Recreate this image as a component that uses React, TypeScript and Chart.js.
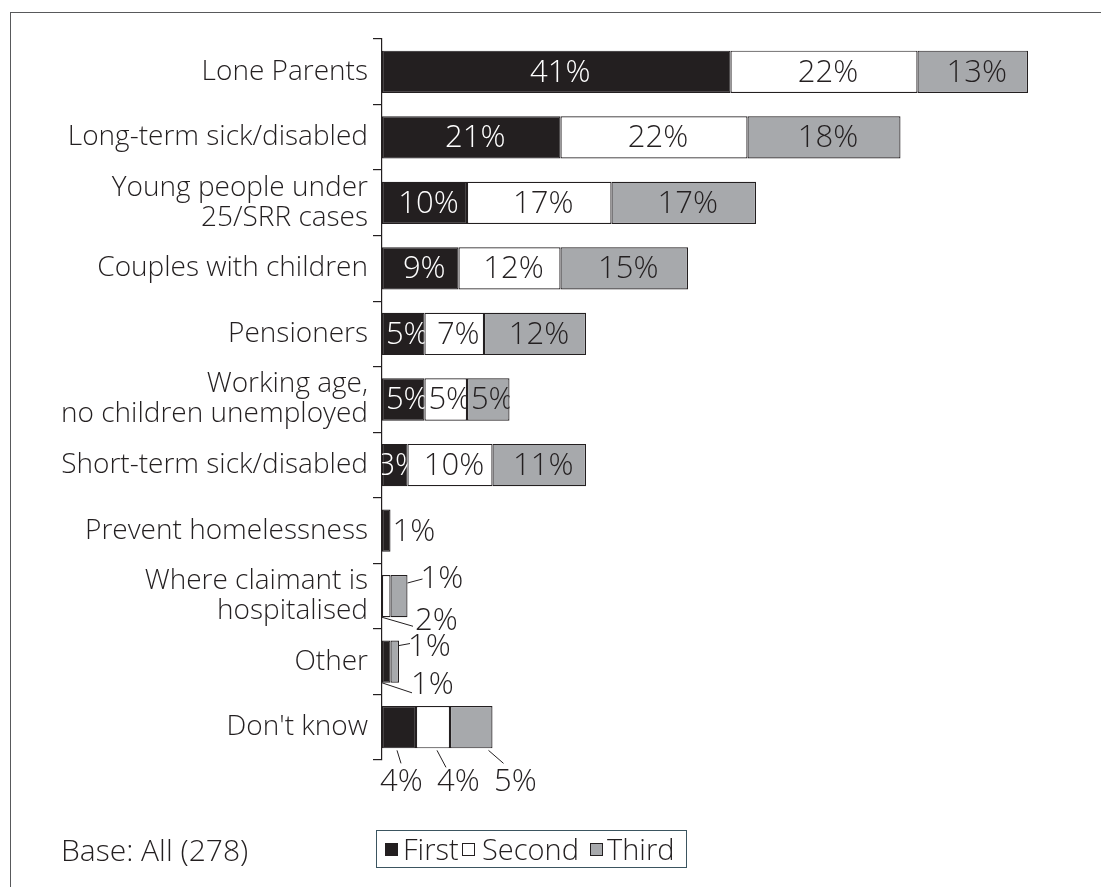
import React, { useEffect, useRef } from "react";
import { Chart, registerables } from "chart.js";

Chart.register(...registerables);

const FONT = "'Open Sans', 'Noto Sans', sans-serif";
const WEIGHT = 300;
const INK = "#231f20";

const categories: string[][] = [
  ["Lone Parents"],
  ["Long-term sick/disabled"],
  ["Young people under", "25/SRR cases"],
  ["Couples with children"],
  ["Pensioners"],
  ["Working age,", "no children unemployed"],
  ["Short-term sick/disabled"],
  ["Prevent homelessness"],
  ["Where claimant is", "hospitalised"],
  ["Other"],
  ["Don't know"],
];
const firstValues: (number | null)[] = [41, 21, 10, 9, 5, 5, 3, 1, null, 1, 4];
const secondValues: (number | null)[] = [22, 22, 17, 12, 7, 5, 10, null, 1, null, 4];
const thirdValues: (number | null)[] = [13, 18, 17, 15, 12, 5, 11, null, 2, 1, 5];
const seriesNames = ["First", "Second", "Third"];
const seriesColors = [INK, "#ffffff", "#a7a9ac"];
const insideLabelRows = [0, 1, 2, 3, 4, 5, 6];

const labelPlugin = {
  id: "barLabels",
  afterDatasetsDraw(chart: any) {
    const ctx = chart.ctx;
    const xs = chart.scales.x;
    const x0 = xs.getPixelForValue(0);
    ctx.save();
    ctx.font = `${WEIGHT} 31px ${FONT}`;
    ctx.textBaseline = "middle";
    ctx.strokeStyle = INK;
    ctx.lineWidth = 1;
    const geo = (di: number, i: number) => {
      const el = chart.getDatasetMeta(di).data[i];
      const p = el.getProps(["x", "y", "base", "height"], true);
      return { x: p.x, y: p.y, base: p.base, top: p.y - p.height / 2, bottom: p.y + p.height / 2 };
    };
    const line = (ax: number, ay: number, bx: number, by: number) => {
      ctx.beginPath();
      ctx.moveTo(ax, ay);
      ctx.lineTo(bx, by);
      ctx.stroke();
    };
    // inside labels, clipped to their bar
    chart.data.datasets.forEach((ds: any, di: number) => {
      insideLabelRows.forEach((i) => {
        const v = ds.data[i];
        if (v == null) return;
        const g = geo(di, i);
        ctx.save();
        ctx.beginPath();
        ctx.rect(g.base, g.top, g.x - g.base, g.bottom - g.top);
        ctx.clip();
        ctx.fillStyle = di === 0 ? "#ffffff" : INK;
        ctx.textAlign = "center";
        ctx.fillText(`${v}%`, (g.x + g.base) / 2 + 4, g.y + 1);
        ctx.restore();
      });
    });
    ctx.fillStyle = INK;
    ctx.textAlign = "left";
    // Prevent homelessness
    {
      const g = geo(0, 7);
      ctx.fillText(`${firstValues[7]}%`, g.x + 2, g.y + 2);
    }
    // Where claimant is hospitalised
    {
      const gEnd = geo(2, 8);
      line(gEnd.x, gEnd.top + 8, gEnd.x + 15, gEnd.top + 4);
      ctx.fillText(`${secondValues[8]}%`, gEnd.x + 13, gEnd.top + 4);
      line(x0, gEnd.bottom, x0 + 31, gEnd.bottom + 9);
      ctx.fillText(`${thirdValues[8]}%`, x0 + 33, gEnd.bottom + 4);
    }
    // Other
    {
      const gEnd = geo(2, 9);
      line(gEnd.x, gEnd.top + 5, gEnd.x + 11, gEnd.top + 3);
      ctx.fillText(`${thirdValues[9]}%`, gEnd.x + 9, gEnd.top + 7);
      line(x0, gEnd.bottom, x0 + 30, gEnd.bottom + 10);
      ctx.fillText(`${firstValues[9]}%`, x0 + 29, gEnd.bottom + 2);
    }
    // Don't know
    {
      const g1 = geo(0, 10);
      const g2 = geo(1, 10);
      const g3 = geo(2, 10);
      const ty = g1.bottom + 34;
      line(x0 + 15, g1.bottom + 2, x0 + 19, g1.bottom + 15);
      line(g2.base + 21, g2.bottom + 2, g2.base + 30, g2.bottom + 19);
      line(g3.x - 4, g3.bottom + 2, g3.x + 11, g3.bottom + 15);
      ctx.fillText(`${firstValues[10]}%`, x0 - 2, ty);
      ctx.fillText(`${secondValues[10]}%`, x0 + 55, ty);
      ctx.fillText(`${thirdValues[10]}%`, x0 + 112, ty);
    }
    ctx.restore();
  },
};

export default function App() {
  const ref = useRef<HTMLCanvasElement | null>(null);
  useEffect(() => {
    if (!ref.current) return;
    const data = [firstValues, secondValues, thirdValues];
    const chart = new Chart(ref.current, {
      type: "bar",
      data: {
        labels: categories,
        datasets: seriesNames.map((name, k) => ({
          label: name,
          data: data[k],
          backgroundColor: seriesColors[k],
          borderColor: INK,
          borderWidth: 1.2,
          borderSkipped: false,
          categoryPercentage: 1,
          barPercentage: 0.645,
        })),
      },
      options: {
        indexAxis: "y",
        responsive: false,
        animation: false,
        events: [],
        layout: { padding: { left: 0, top: 39, right: 22, bottom: 127 } },
        plugins: { legend: { display: false }, tooltip: { enabled: false } },
        scales: {
          x: { display: false, stacked: true, min: 0, max: 82 },
          y: {
            stacked: true,
            afterFit: (s: any) => {
              s.width = 382;
            },
            border: { display: true, color: INK, width: 1.2 },
            grid: {
              display: true,
              offset: true,
              drawOnChartArea: false,
              drawTicks: true,
              tickLength: 9,
              color: INK,
              lineWidth: 1.2,
            },
            ticks: {
              color: INK,
              padding: 5,
              font: { family: FONT, size: 28, weight: WEIGHT, lineHeight: 1.07 },
            },
          },
        },
      },
      plugins: [labelPlugin],
    } as any);
    return () => chart.destroy();
  }, []);

  const sq = (bg: string, left: number) => ({
    position: "absolute" as const,
    left,
    top: 12,
    width: 11,
    height: 11,
    background: bg,
    border: `1px solid ${INK}`,
  });
  const txt = (left: number) => ({ position: "absolute" as const, left, top: 0 });

  return (
    <div style={{ position: "absolute", left: 0, top: 0, width: 1101, height: 887, background: "#fff", overflow: "hidden", fontFamily: FONT, fontWeight: WEIGHT, color: INK }}>
      <div style={{ position: "absolute", left: 10, top: 12, width: 1200, height: 1000, borderLeft: "1.5px solid #58595b", borderTop: "1.5px solid #58595b" }} />
      <canvas ref={ref} width={1101} height={887} style={{ position: "absolute", left: 0, top: 0 }} />
      <div style={{ position: "absolute", left: 61, top: 831, fontSize: 30, lineHeight: "38px", whiteSpace: "nowrap" }}>Base: All (278)</div>
      <div style={{ position: "absolute", left: 376, top: 830, width: 309, height: 36, border: "1.5px solid #3b5560", fontSize: 29, lineHeight: "36px", whiteSpace: "nowrap", boxSizing: "content-box" }}>
        <span style={sq(seriesColors[0], 8)} />
        <span style={txt(26)}>{seriesNames[0]}</span>
        <span style={sq(seriesColors[1], 85)} />
        <span style={txt(105)}>{seriesNames[1]}</span>
        <span style={sq(seriesColors[2], 213)} />
        <span style={txt(230)}>{seriesNames[2]}</span>
      </div>
    </div>
  );
}
